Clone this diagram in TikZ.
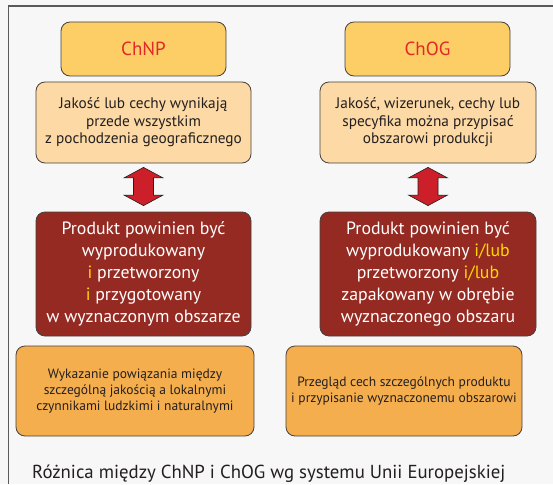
\documentclass[tikz,border=0pt]{standalone}
\usepackage{fontspec}
\setmainfont{PT Sans}
\usetikzlibrary{calc}
\begin{document}
\definecolor{bgpage}{HTML}{F7F7F7}
\definecolor{framegray}{HTML}{5A5A5A}
\definecolor{titlefill}{HTML}{FDCD66}
\definecolor{descfill}{HTML}{FDDAA5}
\definecolor{darkred}{HTML}{952A22}
\definecolor{arrowred}{HTML}{CC1F2A}
\definecolor{orangefill}{HTML}{F5AE4D}
\definecolor{titlered}{HTML}{E02A2A}
\definecolor{hiyellow}{HTML}{FFD800}
\definecolor{textdark}{HTML}{231F20}
\begin{tikzpicture}[x=1pt,y=-1pt,
  box/.style={draw=textdark!85, line width=0.8pt, rounded corners=9pt, align=center,
              inner sep=0pt, text=textdark},
  titlebox/.style={box, fill=titlefill, minimum width=165pt, minimum height=54pt,
                   font=\fontsize{19}{22}\selectfont, text=titlered},
  descbox/.style={box, fill=descfill, minimum width=215pt, minimum height=81pt,
                  font=\fontsize{15.3}{17.5}\selectfont},
  redbox/.style={box, fill=darkred, minimum width=215pt, minimum height=124pt,
                 font=\fontsize{17.8}{22}\selectfont, text=white},
  lowbox/.style={box, fill=orangefill, minimum height=90pt,
                 font=\fontsize{13.5}{15.7}\selectfont},
  dblarrow/.style={fill=arrowred, draw=textdark, line width=0.6pt, line join=miter}
]
\useasboundingbox (0,0) rectangle (553,484);
\fill[bgpage] (0,0) rectangle (553,484);
% outer frame: left and top edges
\draw[framegray, line width=1.4pt] (8.5,484) -- (8.5,6) -- (553,6);

% left column
\node[titlebox] (chnp) at (143.5,49) {ChNP};
\node[descbox] (chnpdesc) at (143.5,122.5) {Jakość lub cechy wynikają\\przede wszystkim\\z pochodzenia geograficznego};
\node[redbox] (chnpreq) at (143.5,274) {Produkt powinien być\\wyprodukowany\\{\color{hiyellow}i} przetworzony\\{\color{hiyellow}i} przygotowany\\w wyznaczonym obszarze};
\node[lowbox, minimum width=238pt] (chnplink) at (135,391) {Wykazanie powiązania między\\szczególną jakością a lokalnymi\\czynnikami ludzkimi i naturalnymi};

% right column
\node[titlebox] (chog) at (427.5,49) {ChOG};
\node[descbox, minimum width=216pt] (chogdesc) at (428,122.5) {Jakość, wizerunek, cechy lub\\specyfika można przypisać\\obszarowi produkcji};
\node[redbox, minimum width=216pt] (chogreq) at (428,274) {Produkt powinien być\\wyprodukowany {\color{hiyellow}i/lub}\\przetworzony {\color{hiyellow}i/lub}\\zapakowany w obrębie\\wyznaczonego obszaru};
\node[lowbox, minimum width=236pt] (choglink) at (404,391) {Przegląd cech szczególnych produktu\\i przypisanie wyznaczonemu obszarowi};

% double-headed block arrows between description and requirement boxes
\foreach \a/\b in {chnpdesc/chnpreq, chogdesc/chogreq}{
  \path (\a.south) ++(0,4) coordinate (top) (\b.north) ++(0,-6) coordinate (bot);
  \draw[dblarrow] (top) -- ++(19.5,10.5) -- ++(-9.5,0) |- ($(bot)+(10,-10.5)$) -- ($(bot)+(19.5,-10.5)$) -- (bot)
     -- ++(-19.5,-10.5) -- ++(9.5,0) |- ($(top)+(-10,10.5)$) -- ($(top)+(-19.5,10.5)$) -- cycle;
}

% caption
\node[anchor=base west, font=\fontsize{18.8}{22}\selectfont, text=textdark, inner sep=0pt] (caption) at (32,478) {Różnica między ChNP i ChOG wg systemu Unii Europejskiej};
\end{tikzpicture}
\end{document}
